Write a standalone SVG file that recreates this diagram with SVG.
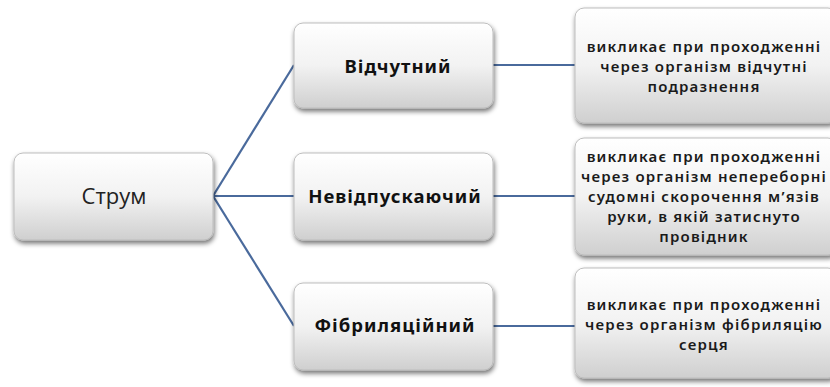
<svg xmlns="http://www.w3.org/2000/svg" width="830" height="387" viewBox="0 0 830 387">
<defs>
<linearGradient id="g" x1="0" y1="0" x2="0" y2="1">
<stop offset="0" stop-color="#ffffff"/>
<stop offset="0.5" stop-color="#f2f2f2"/>
<stop offset="1" stop-color="#cfcfcf"/>
</linearGradient>
<filter id="sh" x="-10%" y="-10%" width="125%" height="130%">
<feGaussianBlur in="SourceAlpha" stdDeviation="2.5"/>
<feOffset dx="1" dy="3" result="b"/>
<feComponentTransfer><feFuncA type="linear" slope="0.55"/></feComponentTransfer>
<feMerge><feMergeNode/><feMergeNode in="SourceGraphic"/></feMerge>
</filter>
</defs>
<style>
.box{fill:url(#g);stroke:#bdbdbd;stroke-width:1;filter:url(#sh)}
.con{stroke:#4a6a9c;stroke-width:2.2;fill:none}
.root{font-family:"Open Sans","Noto Sans",sans-serif;font-size:22px;fill:#222;text-anchor:middle}
.mid{font-family:"Noto Sans","Open Sans",sans-serif;font-size:18.5px;font-weight:bold;fill:#111;text-anchor:middle;letter-spacing:1px}
.leaf{font-family:"Noto Sans","Open Sans",sans-serif;font-size:15px;font-weight:600;fill:#1a1a1a;text-anchor:middle;letter-spacing:1.2px}
</style>
<rect width="830" height="387" fill="#ffffff"/>
<g id="connectors">
<path class="con" d="M213,196 L294,65"/>
<path class="con" d="M213,196 L294,196"/>
<path class="con" d="M213,196 L294,326"/>
<path class="con" d="M493,65 L575,65"/>
<path class="con" d="M493,196 L575,196"/>
<path class="con" d="M493,326 L575,326"/>
</g>
<g id="root">
<rect class="box" x="14" y="153" width="199" height="87" rx="9"/>
<text class="root" x="114" y="204">Струм</text>
</g>
<g id="n1">
<rect class="box" x="294" y="23" width="199" height="85" rx="9"/>
<text class="mid" x="398" y="73">Відчутний</text>
</g>
<g id="n2">
<rect class="box" x="294" y="153" width="199" height="87" rx="9"/>
<text class="mid" x="395" y="203">Невідпускаючий</text>
</g>
<g id="n3">
<rect class="box" x="294" y="283" width="199" height="87" rx="9"/>
<text class="mid" x="395" y="332">Фібриляційний</text>
</g>
<g id="l1">
<rect class="box" x="575" y="8" width="262" height="115" rx="9"/>
<text class="leaf" x="704" y="52">викликає при проходженні</text>
<text class="leaf" x="704" y="72">через організм відчутні</text>
<text class="leaf" x="704" y="92">подразнення</text>
</g>
<g id="l2">
<rect class="box" x="575" y="138" width="262" height="117" rx="9"/>
<text class="leaf" x="704" y="162">викликає при проходженні</text>
<text class="leaf" x="704" y="182">через організм непереборні</text>
<text class="leaf" x="704" y="202">судомні скорочення м’язів</text>
<text class="leaf" x="704" y="222">руки, в якій затиснуто</text>
<text class="leaf" x="704" y="242">провідник</text>
</g>
<g id="l3">
<rect class="box" x="575" y="268" width="262" height="110" rx="9"/>
<text class="leaf" x="704" y="310">викликає при проходженні</text>
<text class="leaf" x="704" y="330">через організм фібриляцію</text>
<text class="leaf" x="704" y="350">серця</text>
</g>
</svg>
